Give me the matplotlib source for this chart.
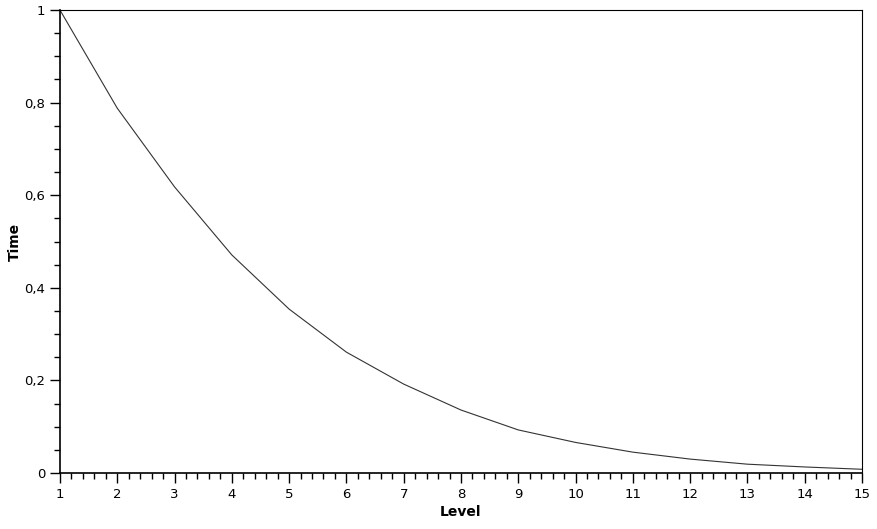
import matplotlib.pyplot as plt
from matplotlib.ticker import MultipleLocator, FuncFormatter

# 레벨별 시간 데이터
levels = [1, 2, 3, 4, 5, 6, 7, 8, 9, 10, 11, 12, 13, 14, 15]
times = [1.0, 0.788, 0.618, 0.471, 0.354, 0.261, 0.192, 0.136,
         0.093, 0.066, 0.045, 0.030, 0.019, 0.013, 0.008]

plt.rcParams['font.family'] = ['DejaVu Sans']

fig = plt.figure(figsize=(8.78, 5.29), dpi=100)
ax = fig.add_axes([0.0683, 0.1059, 0.9135, 0.8751])

ax.plot(levels, times, color='#333333', linewidth=0.8)

ax.set_xlim(1, 15)
ax.set_ylim(0, 1)

ax.xaxis.set_major_locator(MultipleLocator(1))
ax.xaxis.set_minor_locator(MultipleLocator(0.2))
ax.yaxis.set_major_locator(MultipleLocator(0.2))
ax.yaxis.set_minor_locator(MultipleLocator(0.05))

# 소수점 쉼표 표시
ax.yaxis.set_major_formatter(FuncFormatter(lambda v, p: ('%g' % round(v, 2)).replace('.', ',')))

ax.tick_params(which='major', length=7, width=1, labelsize=9.5, color='black')
ax.tick_params(which='minor', length=4, width=1)

for s in ax.spines.values():
    s.set_linewidth(0.8)
ax.spines['left'].set_linewidth(1.2)
ax.spines['bottom'].set_linewidth(1.2)

ax.set_xlabel('Level', fontsize=10, fontweight='bold', labelpad=3)
ax.set_ylabel('Time', fontsize=10, fontweight='bold', labelpad=2)

fig.savefig('out.png', dpi=100)
